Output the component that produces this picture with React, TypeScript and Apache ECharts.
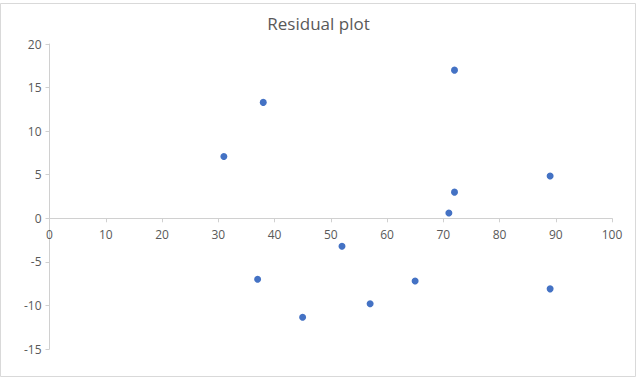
import React, { useEffect, useRef } from "react";
import * as echarts from "echarts";

const xValues = [31, 38, 72, 72, 71, 89, 52, 37, 45, 57, 65, 89];
const residuals = [7.1, 13.3, 17.0, 3.0, 0.6, 4.85, -3.2, -7.0, -11.35, -9.8, -7.2, -8.1];
const chartTitle = "Residual plot";

export default function App() {
  const ref = useRef<HTMLDivElement>(null);
  useEffect(() => {
    document.body.style.margin = "0";
    const chart = echarts.init(ref.current!, null, { renderer: "svg" });
    const font = "'Open Sans', 'Noto Sans', sans-serif";
    const gridTop = 44;
    const gridBottom = 29;
    const plotH = 378 - gridTop - gridBottom;
    const yMin = -15;
    const yMax = 20;
    const zeroOffset = -(plotH * (0 - yMin)) / (yMax - yMin);
    chart.setOption({
      animation: false,
      backgroundColor: "#ffffff",
      title: {
        text: chartTitle,
        left: "center",
        top: 10,
        textStyle: { color: "#595959", fontSize: 17, fontWeight: "normal", fontFamily: font },
      },
      graphic: [
        {
          type: "rect",
          shape: { x: 0.5, y: 3.5, width: 635, height: 373 },
          style: { fill: "none", stroke: "#d9d9d9", lineWidth: 1 },
          silent: true,
        },
      ],
      grid: { left: 49.5, right: 25, top: gridTop, bottom: gridBottom },
      xAxis: {
        type: "value",
        min: 0,
        max: 100,
        interval: 10,
        position: "bottom",
        offset: zeroOffset,
        axisLine: { onZero: false, lineStyle: { color: "#d0d0d0" } },
        axisTick: { show: true, length: 4, lineStyle: { color: "#d0d0d0" } },
        axisLabel: { color: "#595959", fontSize: 12, margin: 10, fontFamily: font },
        splitLine: { show: false },
      },
      yAxis: {
        type: "value",
        min: yMin,
        max: yMax,
        interval: 5,
        axisLine: { show: true, onZero: false, lineStyle: { color: "#d0d0d0" } },
        axisTick: { show: true, length: 4, lineStyle: { color: "#d0d0d0" } },
        axisLabel: { color: "#595959", fontSize: 12, margin: 8, fontFamily: font },
        splitLine: { show: false },
      },
      series: [
        {
          type: "scatter",
          symbol: "circle",
          symbolSize: 7,
          itemStyle: { color: "#4472C4", opacity: 1 },
          data: xValues.map((x, i) => [x, residuals[i]]),
        },
      ],
    });
    return () => chart.dispose();
  }, []);
  return <div ref={ref} style={{ width: 637, height: 378 }} />;
}
